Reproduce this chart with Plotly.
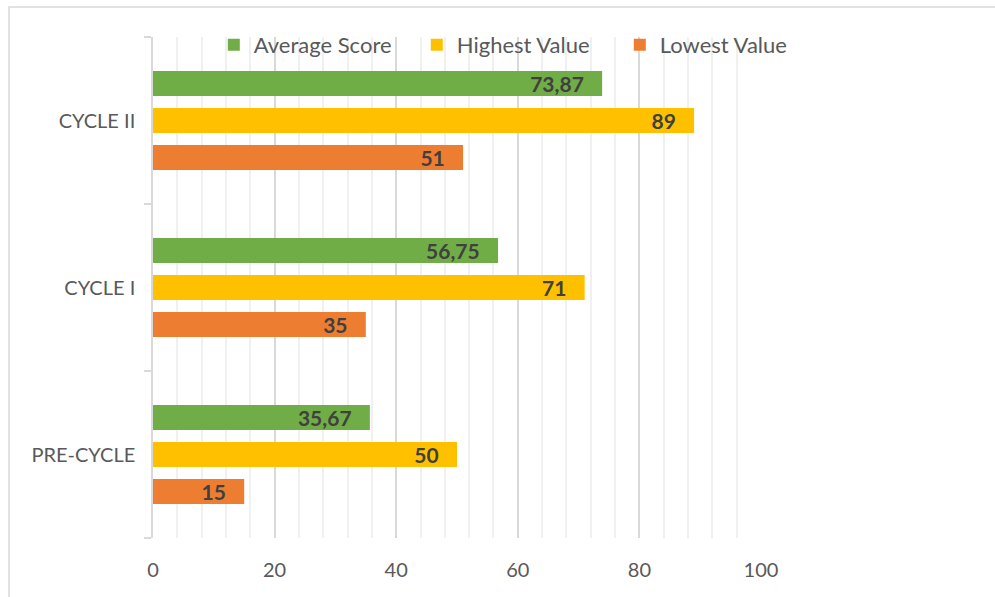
import plotly.graph_objects as go

# Scores per research stage
categories = ["PRE-CYCLE", "CYCLE I", "CYCLE II"]
average_score = [35.67, 56.75, 73.87]
highest_value = [50, 71, 89]
lowest_value = [15, 35, 51]

x_ticks = [0, 20, 40, 60, 80, 100]
minor_ticks = [v for v in range(0, 101, 4) if v % 20 != 0]

GREEN = "#70ad47"
YELLOW = "#ffc000"
ORANGE = "#ed7d31"
FONT = "Lato"
LABEL_COLOR = "#404040"
AXIS_TEXT = "#595959"
GRID = "#d9d9d9"


def fmt(v):
    s = f"{v:g}".replace(".", ",")
    return s + "\u00a0\u00a0\u00a0"


series = [
    ("Lowest Value", lowest_value, ORANGE),
    ("Highest Value", highest_value, YELLOW),
    ("Average Score", average_score, GREEN),
]

fig = go.Figure()
for name, vals, color in series:
    fig.add_trace(go.Bar(
        name=name,
        y=categories,
        x=vals,
        orientation="h",
        marker=dict(color=color, line=dict(width=0)),
        text=[fmt(v) for v in vals],
        textposition="inside",
        insidetextanchor="end",
        constraintext="none",
        textfont=dict(family=FONT, size=21, color=LABEL_COLOR, weight="bold"),
        textangle=0,
        cliponaxis=False,
    ))

fig.update_layout(
    width=995,
    height=597,
    margin=dict(l=153, r=234, t=37, b=59, autoexpand=False),
    paper_bgcolor="white",
    plot_bgcolor="white",
    barmode="group",
    bargap=0.335,
    bargroupgap=0.324,
    font=dict(family=FONT, color=AXIS_TEXT),
    legend=dict(
        orientation="h",
        traceorder="reversed",
        x=0.1,
        xanchor="left",
        y=1.026,
        yanchor="top",
        font=dict(family=FONT, size=22, color=AXIS_TEXT),
        entrywidth=158,
        itemwidth=30,
        bgcolor="rgba(0,0,0,0)",
    ),
    xaxis=dict(
        range=[0, 100],
        tickvals=x_ticks,
        ticktext=[str(v) for v in x_ticks],
        showgrid=True,
        gridcolor=GRID,
        gridwidth=1.5,
        zeroline=False,
        showline=False,
        ticks="",
        tickfont=dict(family=FONT, size=20, color=AXIS_TEXT),
        ticklabelstandoff=18,
        minor=dict(tickvals=minor_ticks, showgrid=True, gridcolor="#f0f0f0", gridwidth=1.5),
    ),
    yaxis=dict(
        categoryorder="array",
        categoryarray=categories,
        showline=True,
        linecolor=GRID,
        linewidth=1.5,
        ticks="outside",
        tickson="boundaries",
        ticklen=7,
        tickcolor=GRID,
        tickwidth=1.5,
        showgrid=False,
        tickfont=dict(family=FONT, size=20, color=AXIS_TEXT),
        ticklabelstandoff=12,
    ),
    shapes=[dict(
        type="rect",
        xref="paper", yref="paper",
        x0=-0.2368, x1=2.0, y0=-1.0, y1=1.0599,
        line=dict(color=GRID, width=1.5),
        fillcolor="rgba(0,0,0,0)",
        layer="below",
    )],
)

fig.write_html("out.html")
